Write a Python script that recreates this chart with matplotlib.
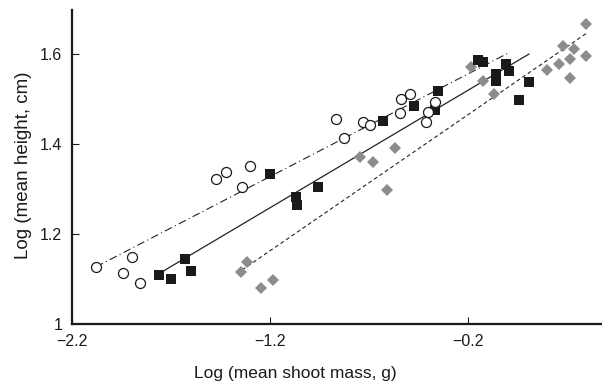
import matplotlib
matplotlib.use("Agg")
import matplotlib.pyplot as plt

plt.rcParams["font.family"] = ["Liberation Sans", "DejaVu Sans"]

# open circles
circle_x = [-2.079, -1.942, -1.897, -1.857, -1.473, -1.422, -1.301, -1.341, -0.867,
            -0.826, -0.730, -0.695, -0.543, -0.538, -0.493, -0.402, -0.412, -0.367]
circle_y = [1.127, 1.113, 1.149, 1.091, 1.322, 1.338, 1.351, 1.304, 1.456,
            1.413, 1.449, 1.442, 1.469, 1.500, 1.511, 1.471, 1.449, 1.493]

# black squares
square_x = [-1.761, -1.700, -1.629, -1.599, -1.200, -1.069, -1.064, -0.958, -0.629, -0.473,
            -0.352, -0.367, -0.149, -0.124, -0.059, -0.059, -0.008, 0.007, 0.058, 0.108]
square_y = [1.109, 1.100, 1.144, 1.118, 1.333, 1.282, 1.264, 1.304, 1.451, 1.484,
            1.518, 1.476, 1.587, 1.582, 1.556, 1.540, 1.578, 1.562, 1.498, 1.538]

# grey diamonds
diamond_x = [-1.346, -1.316, -1.245, -1.185, -0.745, -0.680, -0.609, -0.569, -0.185, -0.124,
             -0.069, 0.199, 0.260, 0.280, 0.315, 0.315, 0.335, 0.396, 0.396]
diamond_y = [1.116, 1.138, 1.080, 1.098, 1.371, 1.360, 1.298, 1.391, 1.571, 1.540,
             1.511, 1.564, 1.578, 1.618, 1.589, 1.547, 1.611, 1.596, 1.667]

# fitted lines (end points)
circle_fit_x = [-2.079, 0.002]
circle_fit_y = [1.127, 1.602]
square_fit_x = [-1.745, 0.108]
square_fit_y = [1.116, 1.600]
diamond_fit_x = [-1.341, 0.401]
diamond_fit_y = [1.120, 1.647]

xticks = [-2.2, -1.2, -0.2]
xtick_labels = ["\u22122.2", "\u22121.2", "\u22120.2"]
yticks = [1.0, 1.2, 1.4, 1.6]
ytick_labels = ["1", "1.2", "1.4", "1.6"]

fig = plt.figure(figsize=(6.02, 3.83), dpi=100)
ax = fig.add_axes([72 / 602, 59 / 383, 1 - 72 / 602, 314 / 383])

ax.plot(circle_fit_x, circle_fit_y, color="#222222", lw=0.8, dashes=(7, 3, 1, 3), zorder=2)
ax.plot(square_fit_x, square_fit_y, color="#222222", lw=0.9, zorder=2)
ax.plot(diamond_fit_x, diamond_fit_y, color="#222222", lw=0.8, dashes=(3.5, 2.5), zorder=2)

ax.plot(diamond_x, diamond_y, "D", ms=6.0, color="#8c8c8c", mec="#8c8c8c", mew=0, zorder=3)
ax.plot(square_x, square_y, "s", ms=6.8, color="#1a1a1a", mec="#1a1a1a", mew=0, zorder=4)
ax.plot(circle_x, circle_y, "o", ms=7.2, mfc="white", mec="#1a1a1a", mew=0.9, zorder=5)

ax.set_xlim(-2.2, 0.477)
ax.set_ylim(1.0, 1.698)
ax.set_xticks(xticks)
ax.set_xticklabels(xtick_labels)
ax.set_yticks(yticks)
ax.set_yticklabels(ytick_labels)
ax.tick_params(direction="in", length=5, width=0.8, labelsize=11.5, colors="#1a1a1a")
ax.tick_params(axis="x", pad=7)
ax.tick_params(axis="y", pad=7)

for side in ["top", "right"]:
    ax.spines[side].set_visible(False)
for side in ["left", "bottom"]:
    ax.spines[side].set_linewidth(1.6)
    ax.spines[side].set_color("#1a1a1a")

ax.set_xlabel("Log (mean shoot mass, g)", fontsize=12.5, color="#1a1a1a")
ax.set_ylabel("Log (mean height, cm)", fontsize=13.5, color="#1a1a1a")
ax.xaxis.set_label_coords((295 - 72) / 530, -0.135)
ax.yaxis.set_label_coords(-0.076, 0.505)

fig.savefig("out.png", dpi=100)
